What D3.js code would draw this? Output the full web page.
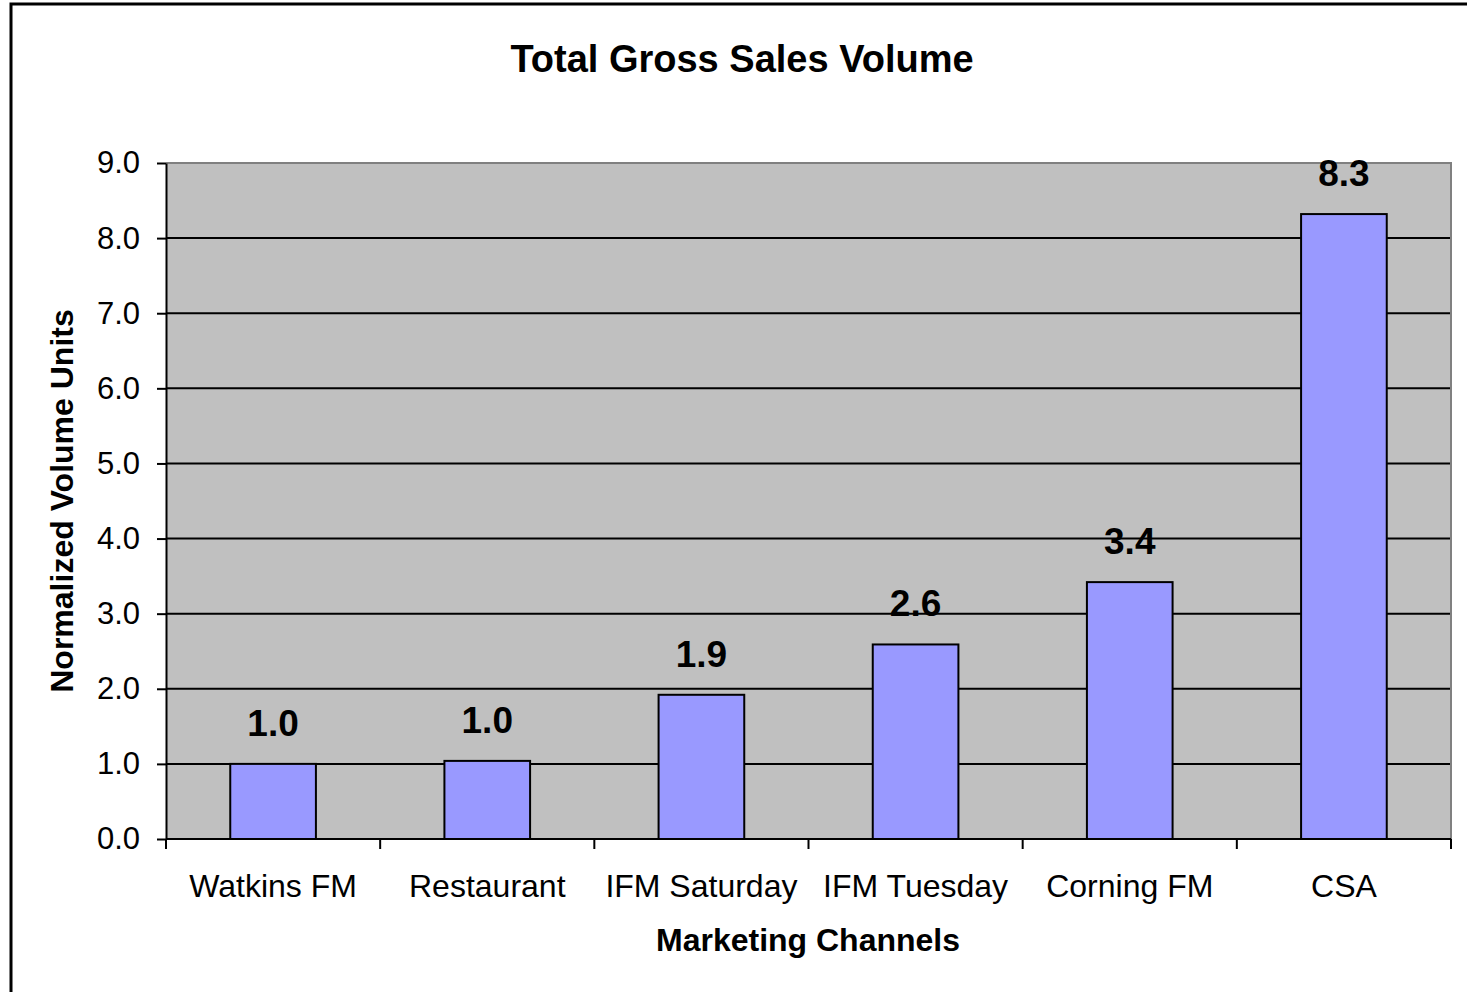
<!DOCTYPE html>
<html>
<head>
<meta charset="utf-8">
<script src="https://cdn.jsdelivr.net/npm/d3@7"></script>
<style>
  body { margin: 0; background: #fff; }
  svg { display: block; font-family: Arial, "Liberation Sans", sans-serif; }
</style>
</head>
<body>
<svg id="chart"></svg>
<script>
const categories = ["Watkins FM", "Restaurant", "IFM Saturday", "IFM Tuesday", "Corning FM", "CSA"];
const values = [1.0, 1.04, 1.92, 2.59, 3.42, 8.32];
const labels = ["1.0", "1.0", "1.9", "2.6", "3.4", "8.3"];
const yTicks = [0, 1, 2, 3, 4, 5, 6, 7, 8, 9];

const width = 1467, height = 992;
const plotLeft = 166, plotRight = 1451, plotTop = 163, plotBottom = 839;

const svg = d3.select("#chart")
    .attr("width", width)
    .attr("height", height);

// outer chart border (runs off the right/bottom edge like the source)
svg.append("rect")
    .attr("x", 11).attr("y", 4)
    .attr("width", width + 10).attr("height", height + 10)
    .attr("fill", "#fff")
    .attr("stroke", "#000")
    .attr("stroke-width", 3);

const x = d3.scaleBand()
    .domain(categories)
    .range([plotLeft, plotRight])
    .paddingInner(0.6)
    .paddingOuter(0.3);

const y = d3.scaleLinear()
    .domain([0, 9])
    .range([plotBottom, plotTop]);

// plot area
svg.append("rect")
    .attr("x", plotLeft).attr("y", plotTop)
    .attr("width", plotRight - plotLeft).attr("height", plotBottom - plotTop)
    .attr("fill", "#c0c0c0");

// gridlines
svg.append("g")
    .selectAll("line")
    .data(yTicks.filter(d => d > 0 && d < 9))
    .enter()
    .append("line")
      .attr("x1", plotLeft).attr("x2", plotRight)
      .attr("y1", d => y(d)).attr("y2", d => y(d))
      .attr("stroke", "#000")
      .attr("stroke-width", 2);

// top and right plot border
svg.append("path")
    .attr("d", `M${plotLeft},${plotTop}H${plotRight}V${plotBottom}`)
    .attr("fill", "none")
    .attr("stroke", "#808080")
    .attr("stroke-width", 2);

// bars
svg.append("g")
    .selectAll("rect")
    .data(values)
    .enter()
    .append("rect")
      .attr("x", (d, i) => x(categories[i]))
      .attr("y", d => y(d))
      .attr("width", x.bandwidth())
      .attr("height", d => y(0) - y(d))
      .attr("fill", "#9999ff")
      .attr("stroke", "#000")
      .attr("stroke-width", 2);

// data labels
svg.append("g")
    .selectAll("text")
    .data(values)
    .enter()
    .append("text")
      .attr("x", (d, i) => x(categories[i]) + x.bandwidth() / 2)
      .attr("y", d => y(d) - 28)
      .attr("text-anchor", "middle")
      .style("font-size", "37px")
      .style("font-weight", "bold")
      .text((d, i) => labels[i]);

// y axis
const yAxis = d3.axisLeft(y)
    .tickValues(yTicks)
    .tickFormat(d3.format(".1f"))
    .tickSize(9)
    .tickSizeOuter(0)
    .tickPadding(17);

const gy = svg.append("g")
    .attr("transform", `translate(${plotLeft}, 0)`)
    .call(yAxis);
gy.select(".domain").attr("stroke", "#000").attr("stroke-width", 2);
gy.selectAll(".tick line").attr("stroke", "#000").attr("stroke-width", 2);
gy.selectAll(".tick text")
    .style("font-size", "31px")
    .style("font-family", "Arial, 'Liberation Sans', sans-serif")
    .attr("fill", "#000");

// x axis: labels centred on bands, ticks on category boundaries
const xAxis = d3.axisBottom(x).tickSize(0).tickPadding(35);
const gx = svg.append("g")
    .attr("transform", `translate(0, ${plotBottom})`)
    .call(xAxis);
gx.select(".domain").remove();
gx.selectAll(".tick text")
    .style("font-size", "32px")
    .style("font-family", "Arial, 'Liberation Sans', sans-serif")
    .attr("fill", "#000");

svg.append("line")
    .attr("x1", plotLeft).attr("x2", plotRight)
    .attr("y1", plotBottom).attr("y2", plotBottom)
    .attr("stroke", "#000")
    .attr("stroke-width", 2);

svg.append("g")
    .selectAll("line")
    .data(d3.range(categories.length + 1))
    .enter()
    .append("line")
      .attr("x1", i => plotLeft + i * x.step())
      .attr("x2", i => plotLeft + i * x.step())
      .attr("y1", plotBottom).attr("y2", plotBottom + 10)
      .attr("stroke", "#000")
      .attr("stroke-width", 2);

// titles
svg.append("text")
    .attr("x", 742)
    .attr("y", 72)
    .attr("text-anchor", "middle")
    .style("font-size", "38px")
    .style("font-weight", "bold")
    .text("Total Gross Sales Volume");

svg.append("text")
    .attr("x", 808)
    .attr("y", 951)
    .attr("text-anchor", "middle")
    .style("font-size", "32px")
    .style("font-weight", "bold")
    .text("Marketing Channels");

svg.append("text")
    .attr("transform", "rotate(-90)")
    .attr("x", -(plotTop + plotBottom) / 2)
    .attr("y", 73)
    .attr("text-anchor", "middle")
    .style("font-size", "32px")
    .style("font-weight", "bold")
    .text("Normalized Volume Units");
</script>
</body>
</html>
